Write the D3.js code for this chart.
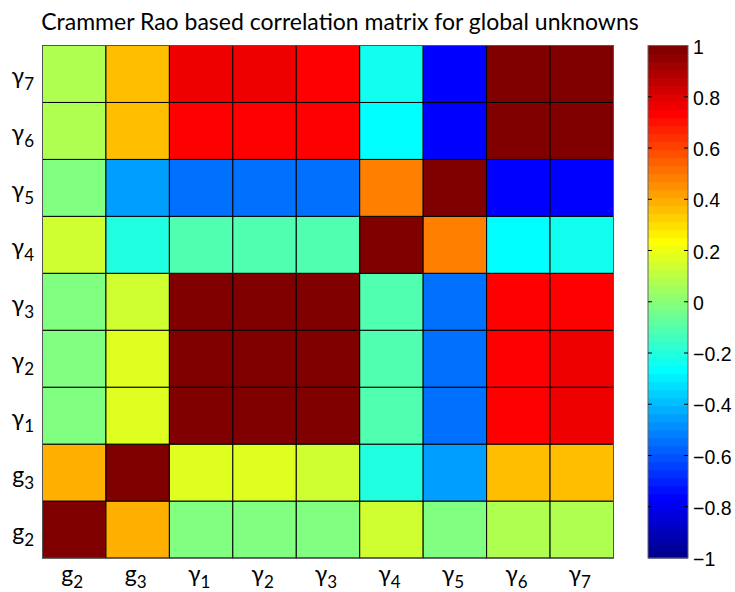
<!DOCTYPE html>
<html>
<head>
<meta charset="utf-8">
<script src="https://cdn.jsdelivr.net/npm/d3@7"></script>
<style>
  body { margin: 0; background: #fff; }
</style>
</head>
<body>
<div id="chart"></div>
<script>
// variable order (columns left->right, rows bottom->top)
const variables = ['g2', 'g3', 'γ1', 'γ2', 'γ3', 'γ4', 'γ5', 'γ6', 'γ7'];

// correlation rows, one per variable
const rowG2 = [1.00, 0.39, -0.01, -0.01, -0.01, 0.14, -0.01, 0.08, 0.08];
const rowG3 = [0.39, 1.00, 0.17, 0.17, 0.14, -0.20, -0.45, 0.36, 0.36];
const rowGam1 = [-0.01, 0.17, 1.00, 0.98, 0.98, -0.11, -0.55, 0.73, 0.77];
const rowGam2 = [-0.01, 0.17, 0.98, 1.00, 0.98, -0.11, -0.55, 0.73, 0.77];
const rowGam3 = [-0.01, 0.14, 0.98, 0.98, 1.00, -0.11, -0.55, 0.73, 0.73];
const rowGam4 = [0.14, -0.20, -0.11, -0.11, -0.11, 1.00, 0.48, -0.27, -0.23];
const rowGam5 = [-0.01, -0.45, -0.55, -0.55, -0.55, 0.48, 1.00, -0.76, -0.76];
const rowGam6 = [0.08, 0.36, 0.73, 0.73, 0.73, -0.27, -0.76, 1.00, 0.98];
const rowGam7 = [0.08, 0.36, 0.77, 0.77, 0.73, -0.23, -0.76, 0.98, 1.00];

const colorTicks = [-1, -0.8, -0.6, -0.4, -0.2, 0, 0.2, 0.4, 0.6, 0.8, 1];

const correlation = [rowG2, rowG3, rowGam1, rowGam2, rowGam3, rowGam4, rowGam5, rowGam6, rowGam7];

const width = 735, height = 592;
const plot = { left: 42.5, right: 613.5, top: 45.5, bottom: 558 };
const bar = { left: 648, right: 688 };
const labelFont = 'Lato, "DejaVu Sans", sans-serif';

// matlab jet(64)
function jet(m) {
  const n = Math.ceil(m / 4);
  const u = [];
  for (let i = 1; i <= n; i++) u.push(i / n);
  for (let i = 1; i < n; i++) u.push(1);
  for (let i = n; i >= 1; i--) u.push(i / n);
  const off = Math.ceil(n / 2) - (m % 4 === 1 ? 1 : 0);
  const r = new Array(m).fill(0), g = new Array(m).fill(0), b = new Array(m).fill(0);
  u.forEach((v, p) => {
    const gi = off + p + 1;
    if (gi >= 1 && gi <= m) g[gi - 1] = v;
    if (gi + n >= 1 && gi + n <= m) r[gi + n - 1] = v;
    if (gi - n >= 1 && gi - n <= m) b[gi - n - 1] = v;
  });
  return d3.range(m).map(i => d3.rgb(r[i] * 255, g[i] * 255, b[i] * 255).formatHex());
}

const color = d3.scaleQuantize().domain([-1, 1]).range(jet(64));

const svg = d3.select('#chart').append('svg')
  .attr('width', width)
  .attr('height', height);

const x = d3.scaleBand().domain(variables).range([plot.left, plot.right]);
const y = d3.scaleBand().domain(variables).range([plot.bottom, plot.top]);

// cells
const cells = [];
correlation.forEach((row, i) => row.forEach((v, j) => cells.push({ r: variables[i], c: variables[j], v })));

svg.append('g')
  .selectAll('rect')
  .data(cells)
  .enter()
  .append('rect')
  .attr('x', d => x(d.c))
  .attr('y', d => y(d.r))
  .attr('width', x.bandwidth())
  .attr('height', y.bandwidth())
  .attr('fill', d => color(d.v))
  .attr('stroke', '#000')
  .attr('stroke-width', 1);

svg.append('rect')
  .attr('x', plot.left)
  .attr('y', plot.top)
  .attr('width', plot.right - plot.left)
  .attr('height', plot.bottom - plot.top)
  .attr('fill', 'none')
  .attr('stroke', '#555')
  .attr('stroke-width', 1);

function addLabel(sel, name) {
  sel.append('tspan').text(name[0]);
  sel.append('tspan').attr('font-size', 17).attr('dy', 6).text(name.slice(1));
}

// x labels
svg.append('g')
  .selectAll('text')
  .data(variables)
  .enter()
  .append('text')
  .attr('x', d => x(d) + x.bandwidth() / 2 - 2)
  .attr('y', 582)
  .attr('text-anchor', 'middle')
  .attr('font-family', labelFont)
  .attr('font-size', 23)
  .attr('fill', '#000')
  .each(function (d) { addLabel(d3.select(this), d); });

// y labels
svg.append('g')
  .selectAll('text')
  .data(variables)
  .enter()
  .append('text')
  .attr('x', 34)
  .attr('y', d => y(d) + y.bandwidth() / 2 + 10)
  .attr('text-anchor', 'end')
  .attr('font-family', labelFont)
  .attr('font-size', 23)
  .attr('fill', '#000')
  .each(function (d) { addLabel(d3.select(this), d); });

// title
svg.append('text')
  .attr('x', 340)
  .attr('y', 30)
  .attr('text-anchor', 'middle')
  .attr('font-family', labelFont)
  .attr('font-size', 23)
  .attr('fill', '#000')
  .text('Crammer Rao based correlation matrix for global unknowns');

// colorbar
const cb = d3.scaleLinear().domain([-1, 1]).range([plot.bottom, plot.top]);

svg.append('g')
  .selectAll('rect')
  .data(color.range())
  .enter()
  .append('rect')
  .attr('x', bar.left)
  .attr('y', c => cb(color.invertExtent(c)[1]))
  .attr('width', bar.right - bar.left)
  .attr('height', c => cb(color.invertExtent(c)[0]) - cb(color.invertExtent(c)[1]) + 0.5)
  .attr('fill', c => c);

svg.append('rect')
  .attr('x', bar.left)
  .attr('y', plot.top)
  .attr('width', bar.right - bar.left)
  .attr('height', plot.bottom - plot.top)
  .attr('fill', 'none')
  .attr('stroke', '#666')
  .attr('stroke-width', 1);

const fmt = d3.format('.1~f');
const tickG = svg.append('g')
  .selectAll('g')
  .data(colorTicks)
  .enter()
  .append('g')
  .attr('transform', d => `translate(0,${cb(d)})`);

tickG.filter(d => d > -1 && d < 1).append('line')
  .attr('x1', bar.left).attr('x2', bar.left + 4)
  .attr('stroke', '#000');
tickG.filter(d => d > -1 && d < 1).append('line')
  .attr('x1', bar.right - 4).attr('x2', bar.right)
  .attr('stroke', '#000');

tickG.append('text')
  .attr('x', bar.right + 5)
  .attr('y', 8)
  .attr('font-family', '"Liberation Sans", Arial, sans-serif')
  .attr('font-size', 19.5)
  .attr('fill', '#000')
  .text(d => fmt(d));
</script>
</body>
</html>
